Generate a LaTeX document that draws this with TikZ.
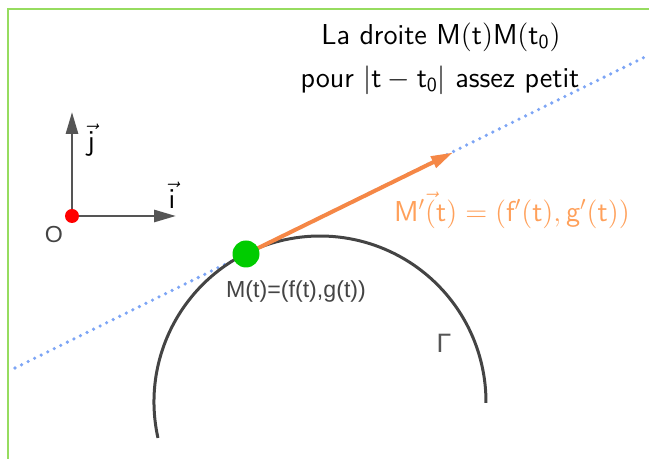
\documentclass[tikz,border=0pt]{standalone}
\usepackage{fontspec}
\newfontfamily\ggbfont{Liberation Sans}
\usetikzlibrary{arrows.meta,positioning,calc}
\definecolor{frameGreen}{RGB}{150,220,95}
\definecolor{axisGray}{RGB}{85,85,85}
\definecolor{curveGray}{RGB}{68,68,68}
\definecolor{lineBlue}{RGB}{125,165,245}
\definecolor{vecOrange}{RGB}{245,135,70}
\definecolor{labOrange}{RGB}{255,160,90}
\definecolor{ptGreen}{RGB}{0,204,0}
\tikzset{
  axis/.style={draw=axisGray, line width=1.4pt, -{Triangle[length=11pt,width=6pt]}},
  pt/.style={circle, inner sep=0pt, minimum size=#1},
  lab/.style={font=\sffamily\Large, inner sep=0pt},
  ggb/.style={font=\ggbfont\fontsize{11.6}{14}\selectfont, text=curveGray, inner sep=0pt},
}

\begin{document}
\begin{tikzpicture}[x=0.5pt, y=-0.5pt]
  \useasboundingbox (0,0) rectangle (649,459);
  % frame
  \draw[frameGreen, line width=1pt] (7.5,459) -- (7.5,9.5) -- (649,9.5);
  % axes
  \coordinate (O) at (72,216);
  \coordinate (itip) at (176,216);
  \coordinate (jtip) at (72,112);
  \draw[axis] (O) -- (itip);
  \draw[axis] (O) -- (jtip);
  \node[pt=7pt, fill=red] (Odot) at (O) {};
  \node[ggb] (Olab) at (54,235) {O};
  \node[lab] (ilab) at (172,195) {$\vec{\mathsf{i}}$};
  \node[lab] (jlab) at (91,140) {$\vec{\mathsf{j}}$};
  % tangent line and curve
  \coordinate (M) at (246,254);
  \coordinate (dL) at (15,368);
  \coordinate (dR) at (649,55);
  \draw[lineBlue, line width=1.8pt, line cap=round, dash pattern=on 0pt off 3.65pt] (dL) -- (dR);
  \coordinate (C) at (320,402);
  \draw[curveGray, line width=1.5pt] ($(C)+(167.5:166)$) arc[start angle=167.5, end angle=360.3, radius=166];
  \coordinate (vtip) at (453,152.5);
  \draw[vecOrange, line width=2pt, -{Triangle[length=11pt,width=6pt]}] (M) -- (vtip);
  \node[pt=13.5pt, fill=ptGreen] (Mdot) at (M) {};
  % labels
  \node[lab] (title) at (441,37) {La droite $\mathsf{M(t)M(t_0)}$};
  \node[lab] (cond) at (440,80) {pour $|\mathsf{t}-\mathsf{t_0}|$ assez petit};
  \node[lab, text=labOrange] (vlab) at (512,210)
    {$\mathsf{M'\vec{(}t) = (f'(t), g'(t))}$};
  \node[ggb] (Mlab) at (296,292) {M(t)=(f(t),g(t))};
  \node[ggb, font=\ggbfont\fontsize{13.3}{16}\selectfont, text=axisGray] (Gam) at (444,343) {Γ};
\end{tikzpicture}
\end{document}
